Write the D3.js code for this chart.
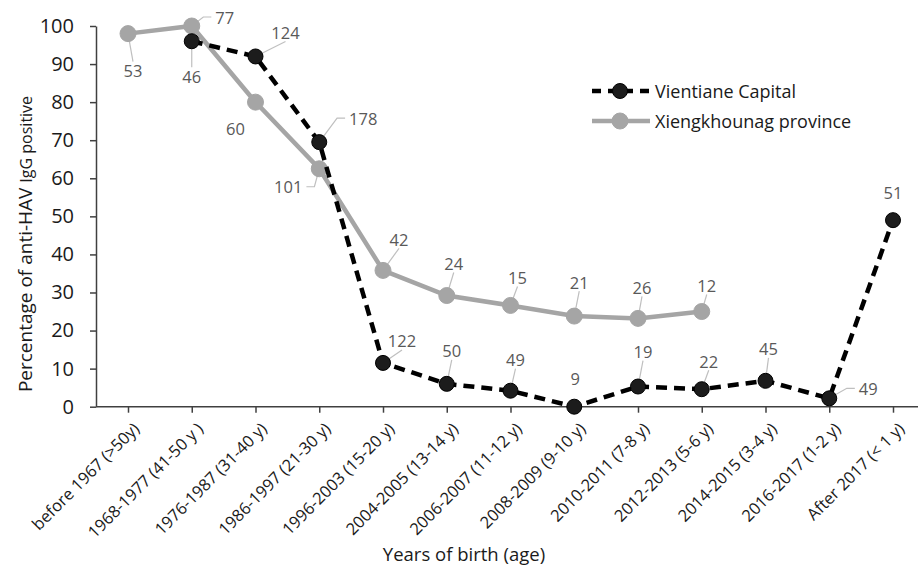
<!DOCTYPE html>
<html>
<head>
<meta charset="utf-8">
<script src="https://cdn.jsdelivr.net/npm/d3@7"></script>
<style>
  html, body { margin: 0; padding: 0; background: #fff; }
  svg { display: block; font-family: "Open Sans", "Liberation Sans", sans-serif; }
</style>
</head>
<body>
<svg id="chart" width="918" height="568"></svg>
<script>
// ---------- data ----------
const categories = [
  "before 1967 (>50y)", "1968-1977 (41-50 y )", "1976-1987 (31-40 y)", "1986-1997 (21-30 y)",
  "1996-2003 (15-20 y)", "2004-2005 (13-14 y)", "2006-2007 (11-12 y)", "2008-2009 (9-10 y)",
  "2010-2011 (7-8 y)", "2012-2013 (5-6 y)", "2014-2015 (3-4 y)", "2016-2017 (1-2 y)", "After 2017 (< 1 y)"
];
const vientianeValues = [null, 96, 92, 69.5, 11.5, 6, 4.2, 0, 5.3, 4.6, 6.8, 2.2, 49];
const vientianeCounts = [null, 46, 124, 178, 122, 50, 49, 9, 19, 22, 45, 49, 51];
const xiengValues = [98, 100, 80, 62.5, 35.8, 29.2, 26.6, 23.8, 23.2, 25, null, null, null];
const xiengCounts = [53, 77, 60, 101, 42, 24, 15, 21, 26, 12, null, null, null];
const yTicks = [0, 10, 20, 30, 40, 50, 60, 70, 80, 90, 100];
const seriesNames = ["Vientiane Capital", "Xiengkhounag province"];

// label placement (layout only): [dx, dy, leaderType]
const vientianeLabelPos = [null, [0, 35, "v"], [30, -24, "v"], [44, -24, "bend"], [19, -22, "v"],
  [5, -33, "v"], [5, -31, "v"], [1, -28, "none"], [5, -35, "v"], [7, -28, "v"], [3, -32, "v"],
  [39, -10, "bend"], [0, -28, "none"]];
const xiengLabelPos = [[5, 37, "v"], [33, -9, "bend"], [-20, 26, "none"], [-31, 18, "bend"],
  [16, -31, "v"], [7, -32, "v"], [7, -28, "v"], [5, -34, "v"], [4, -31, "v"], [5, -26, "v"],
  null, null, null];

// ---------- layout ----------
const W = 918, H = 568;
const svg = d3.select("#chart");
const x = d3.scalePoint().domain(categories).range([128, 893]);
const step = x.step();
const y = d3.scaleLinear().domain([0, 100]).range([406.7, 26]);
const axisColor = "#404040";

// y axis
const yAxis = svg.append("g").attr("transform", `translate(96,0)`)
  .call(d3.axisLeft(y).tickValues(yTicks).tickSize(6).tickSizeOuter(0).tickPadding(16));
yAxis.select(".domain").attr("stroke", axisColor).attr("stroke-width", 1.5);
yAxis.selectAll(".tick line").attr("stroke", axisColor).attr("stroke-width", 1.5);
yAxis.selectAll(".tick text").attr("font-size", 20).attr("fill", "#1a1a1a")
  .attr("font-family", "'Open Sans', sans-serif");

// x axis
const xAxis = svg.append("g").attr("transform", `translate(0,${y(0)})`)
  .call(d3.axisBottom(x).tickSize(6).tickSizeOuter(0));
xAxis.select(".domain").remove();
xAxis.append("line")
  .attr("x1", x.range()[0] - step / 2).attr("x2", Math.min(W, x.range()[1] + step / 2))
  .attr("stroke", axisColor).attr("stroke-width", 1.5);
xAxis.selectAll(".tick line").attr("stroke", axisColor).attr("stroke-width", 1.5);
xAxis.selectAll(".tick text")
  .attr("font-size", 16.5).attr("fill", "#1a1a1a")
  .attr("font-family", "'Open Sans', sans-serif")
  .attr("text-anchor", "end")
  .attr("y", 0).attr("dy", 0)
  .attr("transform", "translate(12,23) rotate(-45)");

// axis titles
svg.append("text")
  .attr("transform", "translate(32,244) rotate(-90)")
  .attr("text-anchor", "middle").attr("fill", "#1a1a1a")
  .call(t => {
    t.append("tspan").attr("font-size", 19).text("Percentage of anti-HAV ");
    t.append("tspan").attr("font-size", 16).text("IgG positive");
  });
svg.append("text").attr("x", 464).attr("y", 561).attr("text-anchor", "middle")
  .attr("font-size", 18.5).attr("fill", "#1a1a1a").text("Years of birth (age)");

// ---------- series ----------
const series = [
  { name: seriesNames[1], values: xiengValues, counts: xiengCounts, pos: xiengLabelPos,
    color: "#a5a5a5", dash: null, width: 4.5, markerFill: "#a5a5a5", markerStroke: "#a5a5a5", r: 8 },
  { name: seriesNames[0], values: vientianeValues, counts: vientianeCounts, pos: vientianeLabelPos,
    color: "#000", dash: "11,7", width: 4.5, markerFill: "#1c1c1c", markerStroke: "#000", r: 7.5 }
];

const line = d3.line()
  .defined(d => d.v !== null)
  .x(d => x(d.c)).y(d => y(d.v));

const leaderG = svg.append("g");
const lineG = svg.append("g");
const labelG = svg.append("g");

series.forEach(s => {
  const pts = categories.map((c, i) => ({ c, v: s.values[i], n: s.counts[i], p: s.pos[i] }));
  lineG.append("path").datum(pts)
    .attr("d", line).attr("fill", "none")
    .attr("stroke", s.color).attr("stroke-width", s.width)
    .attr("stroke-dasharray", s.dash);
  lineG.selectAll(null).data(pts.filter(d => d.v !== null)).enter().append("circle")
    .attr("cx", d => x(d.c)).attr("cy", d => y(d.v)).attr("r", s.r)
    .attr("fill", s.markerFill).attr("stroke", s.markerStroke).attr("stroke-width", 1);

  pts.filter(d => d.v !== null && d.p).forEach(d => {
    const px = x(d.c), py = y(d.v);
    const lx = px + d.p[0], ly = py + d.p[1];
    const txt = labelG.append("text").attr("x", lx).attr("y", ly)
      .attr("text-anchor", "middle").attr("dominant-baseline", "central")
      .attr("font-size", 16.5).attr("fill", "#595959").text(d.n);
    const hw = txt.node().getComputedTextLength() / 2;
    if (d.p[2] === "v") {
      const ey = ly + (d.p[1] < 0 ? 9 : -9);
      leaderG.append("line").attr("x1", px).attr("y1", py).attr("x2", lx).attr("y2", ey)
        .attr("stroke", "#bfbfbf").attr("stroke-width", 1.2);
    } else if (d.p[2] === "bend") {
      const side = d.p[0] > 0 ? -1 : 1;
      const ex = lx + side * (hw + 4);
      const bx = ex + side * 8;
      leaderG.append("polyline")
        .attr("points", `${px},${py} ${bx},${ly} ${ex},${ly}`)
        .attr("fill", "none").attr("stroke", "#bfbfbf").attr("stroke-width", 1.2);
    }
  });
});

// ---------- legend ----------
const legend = svg.append("g");
const legendItems = [series[1], series[0]];
legendItems.forEach((s, i) => {
  const ly = 91 + i * 30;
  legend.append("line").attr("x1", 592).attr("x2", 650).attr("y1", ly).attr("y2", ly)
    .attr("stroke", s.color).attr("stroke-width", s.width)
    .attr("stroke-dasharray", s.dash ? "9,7" : null);
  legend.append("circle").attr("cx", 620).attr("cy", ly).attr("r", s.r)
    .attr("fill", s.markerFill).attr("stroke", s.markerStroke);
  legend.append("text").attr("x", 655).attr("y", ly).attr("dominant-baseline", "central")
    .attr("font-size", 18).attr("fill", "#1a1a1a").text(s.name);
});
</script>
</body>
</html>
